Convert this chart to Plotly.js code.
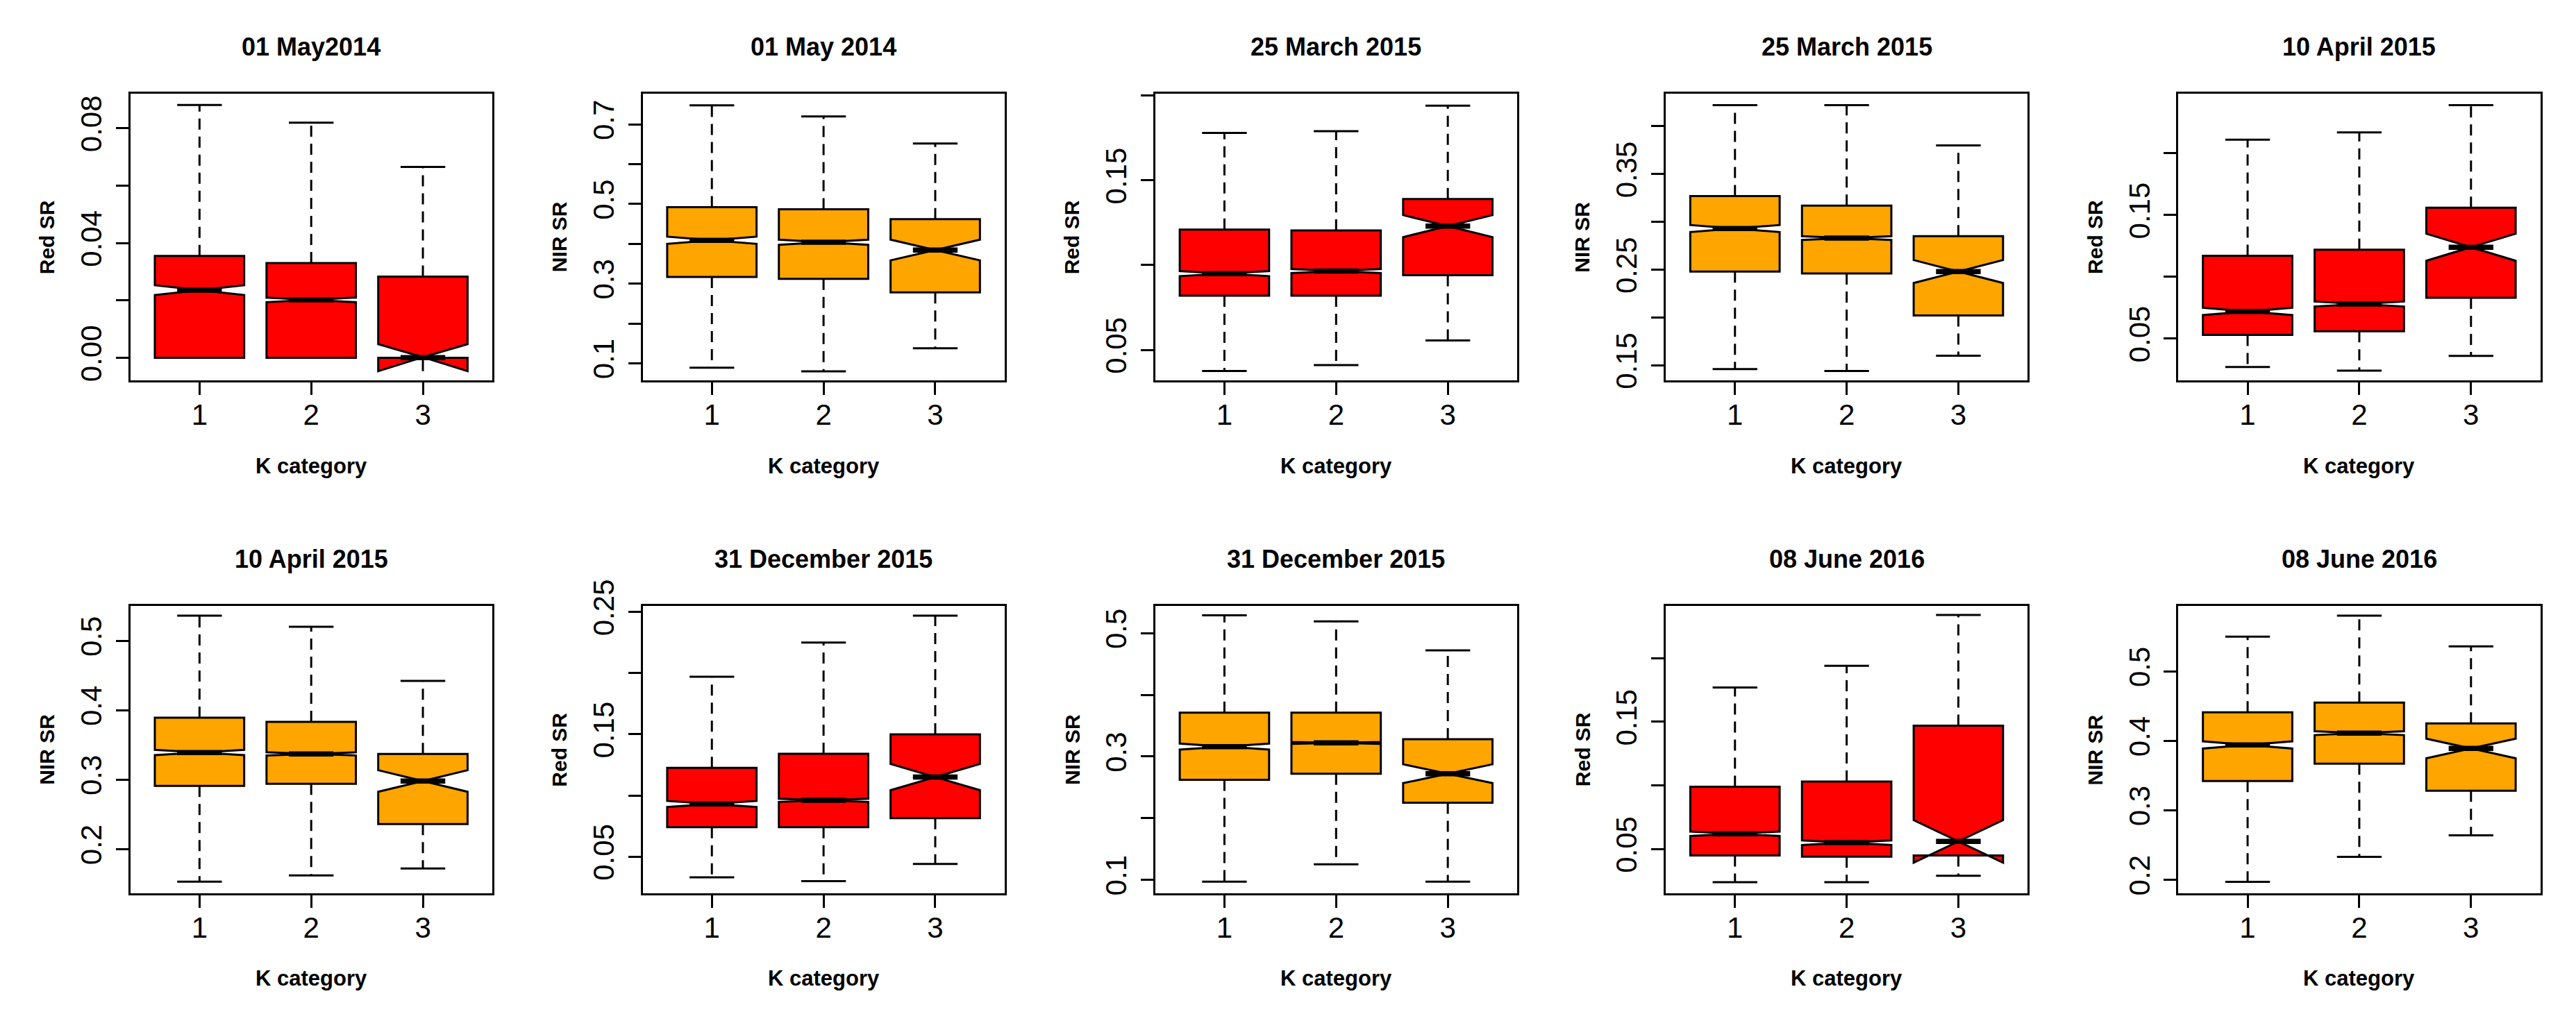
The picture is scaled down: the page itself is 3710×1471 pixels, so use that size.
<!DOCTYPE html>
<html>
<head>
<meta charset="utf-8">
<script src="https://cdn.plot.ly/plotly-3.0.1.min.js"></script>
<style>html,body{margin:0;padding:0;background:#fff;}#chart{width:3710px;height:1471px;}</style>
</head>
<body>
<div id="chart"></div>
<script>
// ---------------- DATA ----------------
const categories = [1, 2, 3];
const categoryLabels = ['1', '2', '3'];
const panelTitles = ['01 May2014', '01 May 2014', '25 March 2015', '25 March 2015', '10 April 2015',
                     '10 April 2015', '31 December 2015', '31 December 2015', '08 June 2016', '08 June 2016'];
const yTitles = ['Red SR', 'NIR SR', 'Red SR', 'NIR SR', 'Red SR', 'NIR SR', 'Red SR', 'NIR SR', 'Red SR', 'NIR SR'];
const xTitle = 'K category';

const upperWhiskers = [
  [0.0881, 0.0819, 0.0665], [0.748, 0.720, 0.652], [0.178, 0.179, 0.194], [0.422, 0.422, 0.380], [0.211, 0.217, 0.239],
  [0.536, 0.520, 0.442], [0.197, 0.225, 0.247], [0.529, 0.519, 0.472], [0.177, 0.194, 0.234], [0.550, 0.580, 0.536]];
const upperQuartiles = [
  [0.0355, 0.0330, 0.0283], [0.492, 0.487, 0.462], [0.121, 0.1205, 0.139], [0.327, 0.317, 0.285], [0.117, 0.122, 0.156],
  [0.389, 0.383, 0.337], [0.1225, 0.134, 0.150], [0.371, 0.371, 0.328], [0.099, 0.103, 0.147], [0.441, 0.455, 0.425]];
const medians = [
  [0.0236, 0.0202, 0.0001], [0.409, 0.404, 0.3845], [0.095, 0.0965, 0.123], [0.293, 0.283, 0.248], [0.072, 0.078, 0.124],
  [0.339, 0.337, 0.298], [0.093, 0.096, 0.115], [0.316, 0.322, 0.272], [0.062, 0.055, 0.056], [0.394, 0.411, 0.389]];
const lowerQuartiles = [
  [0.0, 0.0, 0.0], [0.317, 0.312, 0.278], [0.082, 0.082, 0.094], [0.248, 0.246, 0.202], [0.053, 0.056, 0.083],
  [0.291, 0.294, 0.236], [0.074, 0.074, 0.0815], [0.262, 0.272, 0.225], [0.045, 0.044, 0.045], [0.342, 0.367, 0.328]];
const lowerWhiskers = [
  [0.0, 0.0, 0.0], [0.089, 0.080, 0.138], [0.0375, 0.041, 0.0556], [0.146, 0.144, 0.160], [0.027, 0.024, 0.036],
  [0.153, 0.162, 0.172], [0.033, 0.030, 0.044], [0.097, 0.125, 0.097], [0.024, 0.024, 0.029], [0.197, 0.233, 0.264]];
const notchSpans = [
  [0.0017, 0.0008, 0.0047], [0.009, 0.0065, 0.026], [0.0015, 0.0012, 0.0065], [0.0037, 0.002, 0.012], [0.003, 0.002, 0.011],
  [0.0038, 0.0023, 0.0155], [0.0025, 0.0013, 0.0107], [0.0048, 0.0016, 0.0153], [0.0018, 0.0018, 0.0167], [0.0052, 0.0028, 0.0141]];

const yTickVals = [
  [0, 0.02, 0.04, 0.06, 0.08], [0.1, 0.2, 0.3, 0.4, 0.5, 0.6, 0.7], [0.05, 0.10, 0.15, 0.20], [0.15, 0.20, 0.25, 0.30, 0.35, 0.40], [0.05, 0.10, 0.15, 0.20],
  [0.2, 0.3, 0.4, 0.5], [0.05, 0.10, 0.15, 0.20, 0.25], [0.1, 0.2, 0.3, 0.4, 0.5], [0.05, 0.10, 0.15, 0.20], [0.2, 0.3, 0.4, 0.5]];
const yTickText = [
  ['0.00', '', '0.04', '', '0.08'], ['0.1', '', '0.3', '', '0.5', '', '0.7'], ['0.05', '', '0.15', ''], ['0.15', '', '0.25', '', '0.35', ''], ['0.05', '', '0.15', ''],
  ['0.2', '0.3', '0.4', '0.5'], ['0.05', '', '0.15', '', '0.25'], ['0.1', '', '0.3', '', '0.5'], ['0.05', '', '0.15', ''], ['0.2', '0.3', '0.4', '0.5']];

// ---------------- STYLE / LAYOUT ----------------
const W = 3710, H = 1471;
const RED = '#FF0000', ORANGE = '#FFA500';
const panelColors = [RED, ORANGE, RED, ORANGE, RED, ORANGE, RED, ORANGE, RED, ORANGE];
const yRanges = [
  [-0.0079, 0.0920], [0.0567, 0.777], [0.0319, 0.2011], [0.134, 0.434], [0.016, 0.2483],
  [0.1361, 0.5498], [0.0199, 0.2548], [0.0778, 0.5439], [0.0151, 0.241], [0.1803, 0.5939]];
const colLeft = [187.6, 925.5, 1663.7, 2399.0, 3137.3];
const PLOT_W = 521.2;
const rowPx = [[135, 548.3], [873.2, 1287.2]];
const FONT = 'Liberation Sans, Arial, sans-serif';
const BOXW = 0.8, HALF = 0.2;
const LW = 3;

const traces = [];
const layout = {
  width: W, height: H, margin: {l: 0, r: 0, t: 0, b: 0},
  paper_bgcolor: '#fff', plot_bgcolor: '#fff', showlegend: false,
  annotations: []
};

for (let k = 0; k < 10; k++) {
  const r = Math.floor(k / 5), c = k % 5;
  const sfx = k === 0 ? '' : String(k + 1);
  const xa = 'x' + sfx, ya = 'y' + sfx;
  const x0 = colLeft[c], x1 = colLeft[c] + PLOT_W;
  const [y0, y1] = rowPx[r];

  layout['xaxis' + sfx] = {
    domain: [x0 / W, x1 / W], anchor: ya, range: [0.38, 3.62],
    tickmode: 'array', tickvals: categories, ticktext: categoryLabels,
    ticks: 'outside', ticklen: 18, tickwidth: LW, tickcolor: '#000',
    showline: true, mirror: true, linecolor: '#000', linewidth: LW,
    showgrid: false, zeroline: false, fixedrange: true,
    tickfont: {family: FONT, size: 42, color: '#000'}, ticklabelstandoff: -8
  };
  layout['yaxis' + sfx] = {
    domain: [1 - y1 / H, 1 - y0 / H], anchor: xa, range: yRanges[k],
    tickmode: 'array', tickvals: yTickVals[k], ticktext: yTickText[k],
    ticks: 'outside', ticklen: 18, tickwidth: LW, tickcolor: '#000', tickangle: -90,
    showline: true, mirror: true, linecolor: '#000', linewidth: LW,
    showgrid: false, zeroline: false, fixedrange: true,
    tickfont: {family: FONT, size: 42, color: '#000'}, ticklabelstandoff: 4
  };

  // box bodies (no whiskers: fences at the hinges)
  traces.push({
    type: 'box', x: categories, xaxis: xa, yaxis: ya,
    q1: lowerQuartiles[k], median: medians[k], q3: upperQuartiles[k],
    lowerfence: lowerQuartiles[k], upperfence: upperQuartiles[k],
    notched: true, notchspan: notchSpans[k], notchwidth: 0.5,
    width: BOXW, whiskerwidth: 0, boxpoints: false,
    fillcolor: panelColors[k], line: {color: '#000', width: LW},
    hoverinfo: 'skip'
  });

  // dashed whiskers + solid staples + thick medians
  const wx = [], wy = [], sx = [], sy = [], mx = [], my = [];
  categories.forEach((cat, j) => {
    wx.push(cat, cat, null, cat, cat, null);
    wy.push(upperQuartiles[k][j], upperWhiskers[k][j], null, lowerQuartiles[k][j], lowerWhiskers[k][j], null);
    sx.push(cat - HALF, cat + HALF, null, cat - HALF, cat + HALF, null);
    sy.push(upperWhiskers[k][j], upperWhiskers[k][j], null, lowerWhiskers[k][j], lowerWhiskers[k][j], null);
    mx.push(cat - HALF, cat + HALF, null);
    my.push(medians[k][j], medians[k][j], null);
  });
  traces.push({type: 'scatter', mode: 'lines', x: wx, y: wy, xaxis: xa, yaxis: ya,
    line: {color: '#000', width: LW, dash: '16px,10px'}, hoverinfo: 'skip', connectgaps: false});
  traces.push({type: 'scatter', mode: 'lines', x: sx, y: sy, xaxis: xa, yaxis: ya,
    line: {color: '#000', width: LW}, hoverinfo: 'skip', connectgaps: false});
  traces.push({type: 'scatter', mode: 'lines', x: mx, y: my, xaxis: xa, yaxis: ya,
    line: {color: '#000', width: 7.5}, hoverinfo: 'skip', connectgaps: false});

  const cx = (x0 + x1) / 2, cy = (y0 + y1) / 2;
  layout.annotations.push({text: panelTitles[k], xref: 'paper', yref: 'paper',
    x: cx / W, y: 1 - (y0 - 67.5) / H, xanchor: 'center', yanchor: 'middle', showarrow: false,
    font: {family: FONT, size: 36, color: '#000', weight: 700}});
  layout.annotations.push({text: xTitle, xref: 'paper', yref: 'paper',
    x: cx / W, y: 1 - (y1 + 122.7) / H, xanchor: 'center', yanchor: 'middle', showarrow: false,
    font: {family: FONT, size: 31, color: '#000', weight: 700}});
  layout.annotations.push({text: yTitles[k], xref: 'paper', yref: 'paper', textangle: -90,
    x: (x0 - 120) / W, y: 1 - cy / H, xanchor: 'center', yanchor: 'middle', showarrow: false,
    font: {family: FONT, size: 30, color: '#000', weight: 700}});
}

Plotly.newPlot('chart', traces, layout, {staticPlot: true, displayModeBar: false});
</script>
</body>
</html>
